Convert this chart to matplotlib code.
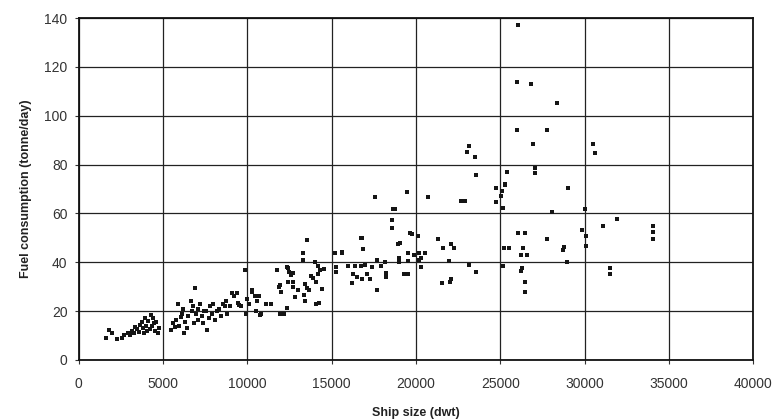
import matplotlib
matplotlib.use("Agg")
import matplotlib.pyplot as plt

plt.rcParams['font.family'] = ['Liberation Sans', 'DejaVu Sans']

# ship size (dwt) and fuel consumption (tonne/day)
ship_size = [
    # small ships
    1600, 1800, 1950, 2300, 2550, 2700, 2900, 3050, 3150, 3300, 3350, 3450, 3550,
    3650, 3750, 3800, 3900, 3950, 4000, 4050, 4100, 4200, 4300, 4350, 4400, 4450,
    4500, 4600, 4700, 4750,
    5500, 5600, 5700, 5800, 5900, 5950, 6050, 6150, 6200, 6250, 6300, 6400, 6500,
    6650, 6700, 6800, 6850, 6890, 6950, 7050, 7100, 7200, 7300, 7400, 7450, 7550,
    7580, 7700, 7800, 7900, 7970, 8100, 8200,
    8300, 8450, 8550, 8650, 8750, 8800, 9000, 9100, 9230, 9360, 9420, 9530, 9630,
    9850, 9900, 10000, 10100, 10250, 10300, 10430, 10500, 10600, 10700, 10750,
    10800, 11100, 11400,
    11730, 11900, 11930, 11950, 12000, 12150, 12330, 12370, 12400, 12420, 12500,
    12600, 12680, 12720, 12840, 12700, 13000, 13310, 13310, 13370, 13400, 13430,
    13550, 13550, 13650, 13790, 13900, 14000, 14050, 14100, 14200, 14270, 14400,
    14300, 14560, 14200,
    15190, 15590, 15250, 15250, 15600, 15940, 16180, 16290, 16400, 16500, 16720,
    16780, 16750, 16800, 16840, 17000, 17100, 17300, 17400, 17670, 17700, 17900,
    18160, 18200, 18200, 18560, 18560, 18660, 18750, 18950, 19010, 19010, 19050,
    19300, 19500, 19500, 19550, 19640, 19740, 19900, 20100, 20200, 20200, 20300,
    20530, 17570, 19450, 20730, 20300,
    21330, 21610, 22070, 22270, 21980, 22650, 22900, 23160, 23050, 23500, 23540,
    23160, 23560, 21520, 22010, 22100, 24750, 25300, 25050, 24760, 25420, 25280,
    25100, 25180,
    26070, 26010, 26830, 28350, 26010, 27790, 26960, 30470, 30620, 27060, 27060,
    29040, 28050, 30000, 31900, 31080, 34030, 34030, 34030, 29830, 30100, 30100,
    27790, 26070, 26470, 28700, 28800, 28940, 25200, 25500, 26370, 26200, 26600,
    25180, 26270, 26200, 26470, 26470, 31500, 31500,
]
fuel = [
    9, 12.3, 11, 8.5, 9, 10, 11, 10, 12, 11, 13.5, 12.5, 11.5,
    14.5, 15.5, 13, 11, 17, 14, 12, 16, 12.5, 18.5, 14, 17, 15,
    12, 15.5, 11, 13,
    12.3, 15, 13.5, 16.5, 23, 14, 17.5, 19, 21, 11, 15.5, 13, 18,
    24, 20, 22, 15, 29.3, 19, 16.5, 21, 23, 18, 15, 20, 20,
    12.3, 17, 22, 19, 23, 16.5, 20,
    21, 18, 23, 22, 24, 19, 22, 27.6, 26, 27.3, 23.5, 22.6, 22,
    36.8, 19, 25, 23, 28.6, 28, 26, 20, 24, 26, 18.5,
    19, 23, 23,
    36.8, 30, 30.7, 19, 28, 19, 38, 21.2, 37.8, 32, 36,
    34.7, 35.5, 32, 25.6, 30, 28.6, 43.6, 41, 26.6, 24, 31,
    49, 29.5, 28.5, 34.5, 33.5, 40, 32, 23, 35, 23.3, 29,
    37, 37.2, 38.5,
    43.9, 44, 38, 36.1, 43.9, 38.5, 31.4, 35, 38.5, 34, 49.8,
    49.8, 38.5, 33, 45.4, 39, 35, 33, 38, 28.6, 41, 38.5,
    40, 35.4, 33.8, 57.3, 53.9, 62, 62, 47.3, 41.8, 40.2, 48,
    35.3, 35.3, 40.5, 43.6, 51.8, 51.4, 43, 50.9, 43.6, 41, 41.6,
    43.6, 66.6, 68.6, 66.8, 38,
    49.4, 46, 47.5, 46, 40.5, 65.2, 65.2, 87.5, 85, 83.2, 75.9,
    38.9, 35.9, 31.6, 32, 33, 70.2, 72, 67, 64.5, 77, 71.6,
    69, 62.4,
    137, 113.8, 112.9, 105.2, 94.3, 94.3, 88.3, 88.6, 84.8, 78.5, 76.5,
    70.5, 60.7, 62, 57.7, 55, 55, 52.2, 49.4, 53, 50.7, 46.6,
    49.7, 51.8, 51.8, 45, 46.2, 40.2, 46, 46, 45.7, 43, 43,
    38.4, 37.7, 36.4, 32, 28, 37.5, 35.2,
]

x_ticks = [0, 5000, 10000, 15000, 20000, 25000, 30000, 35000, 40000]
y_ticks = [0, 20, 40, 60, 80, 100, 120, 140]

fig = plt.figure(figsize=(7.79, 4.19), dpi=100)
ax = fig.add_axes([0.101, 0.141, 0.866, 0.816])

ax.scatter(ship_size, fuel, marker='s', s=5, color='#151515', linewidths=0, zorder=3)

ax.set_xlim(0, 40000)
ax.set_ylim(0, 140)
ax.set_xticks(x_ticks)
ax.set_yticks(y_ticks)
ax.grid(True, color='#222222', linewidth=0.9)
ax.set_axisbelow(True)

for side in ax.spines.values():
    side.set_color('#111111')
    side.set_linewidth(1.3)

ax.tick_params(axis='both', colors='#333333', labelsize=10, length=3, width=0.8)
ax.tick_params(axis='x', pad=9)
ax.tick_params(axis='y', pad=5)

ax.set_xlabel('Ship size (dwt)', fontsize=9, fontweight='bold', color='#222222', labelpad=12)
ax.set_ylabel('Fuel consumption (tonne/day)', fontsize=9, fontweight='bold', color='#222222', labelpad=9)

fig.savefig('out.png', dpi=100)
